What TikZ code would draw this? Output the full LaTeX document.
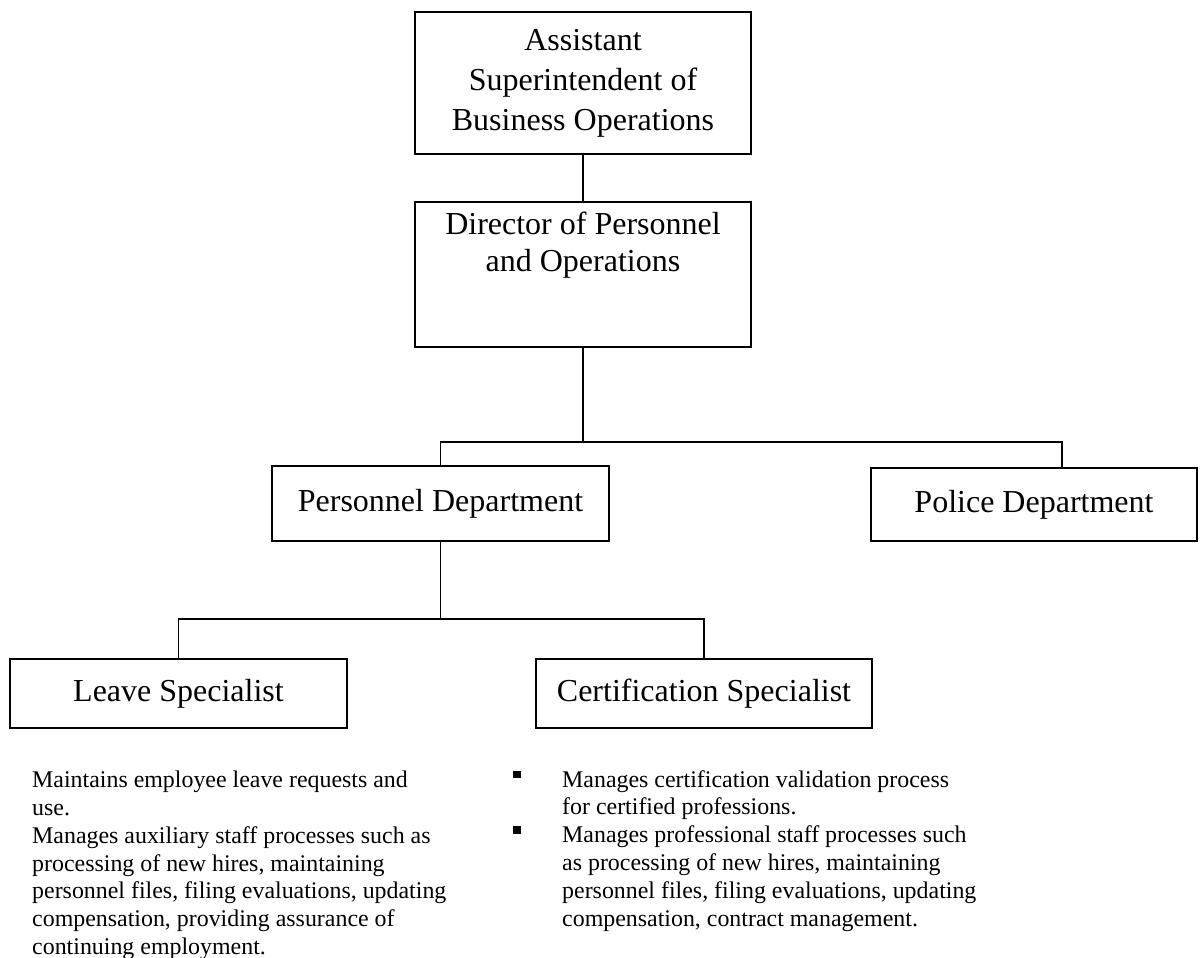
\documentclass[tikz,border=0pt]{standalone}
\usepackage{fontspec}
\setmainfont{Liberation Serif}
\newcommand{\sqbullet}{\llap{\raisebox{9pt}{\rule{7.5pt}{7.5pt}}\hspace{41.5pt}}}
\begin{document}
\begin{tikzpicture}[x=1pt,y=-1pt,
  box/.style={draw, line width=1.8pt, inner sep=0pt, align=center,
              font=\fontsize{32}{40}\selectfont},
  boxtext/.style={inner sep=0pt, align=center, font=\fontsize{32}{37}\selectfont},
  link/.style={line width=1.6pt},
  desc/.style={inner sep=0pt, align=left, anchor=north west,
               font=\fontsize{23.9}{27.8}\selectfont}]
\useasboundingbox (0,0) rectangle (1200,958);

% boxes of the chart
\node[box, minimum width=336, minimum height=142] (asst) at (583,83)
  {Assistant\\Superintendent of\\Business Operations};
\node[box, minimum width=336, minimum height=145] (dir) at (583,274.5) {};
\node[boxtext] (dirtext) at (583,245) {Director of Personnel\\and Operations};
\node[box, minimum width=337, minimum height=75] (pers) at (440.5,503.5)
  {Personnel Department};
\node[box, minimum width=326, minimum height=73] (police) at (1034,504.5)
  {Police Department};
\node[box, minimum width=337, minimum height=69] (leave) at (178.5,693.5)
  {\raisebox{-2pt}{Leave Specialist}};
\node[box, minimum width=336, minimum height=69] (cert) at (704,693.5)
  {Certification Specialist};

% junction points of the connectors
\coordinate (busTop) at (583,442);
\coordinate (polTop) at (1062,468);
\coordinate (busLow) at (440.5,619);

\draw[link] (asst.south) -- (dir.north);
\draw[link] (dir.south) -- (busTop);
\draw[link] (pers.north) |- (busTop) -| (polTop);
\draw[link] (pers.south) -- (busLow);
\draw[link] (leave.north) |- (busLow) -| (cert.north);

% duty descriptions
\node[desc] (leavedesc) at (32,771)
  {Maintains employee leave requests and\\use.\\Manages auxiliary staff processes such as\\processing of new hires, maintaining\\personnel files, filing evaluations, updating\\compensation, providing assurance of\\continuing employment.};
\node[desc] (certdesc) at (562,770)
  {\sqbullet Manages certification validation process\\for certified professions.\\\sqbullet Manages professional staff processes such\\as processing of new hires, maintaining\\personnel files, filing evaluations, updating\\compensation, contract management.};
\end{tikzpicture}
\end{document}
